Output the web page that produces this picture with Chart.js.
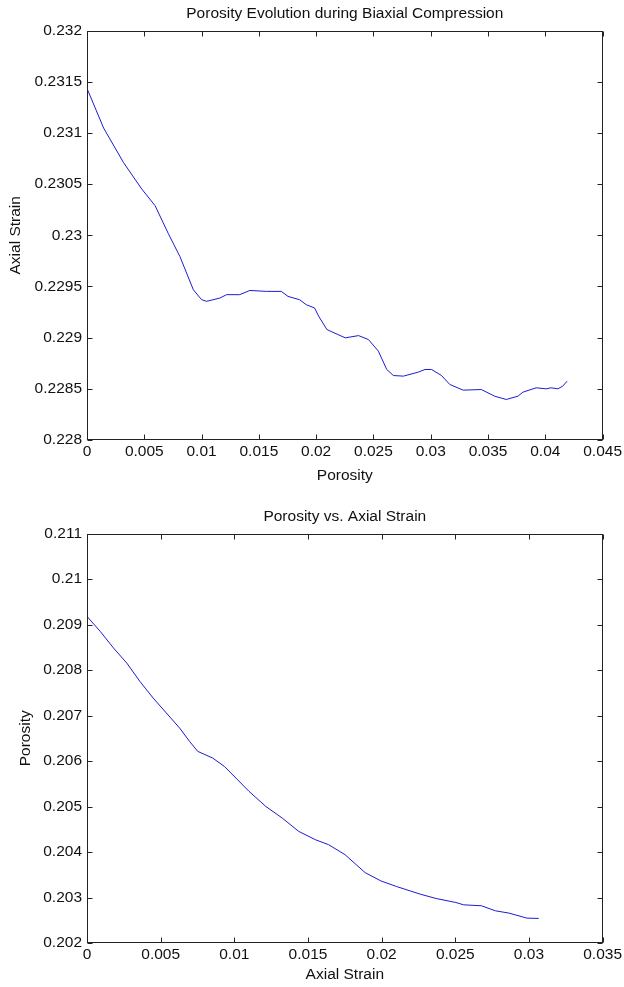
<!DOCTYPE html>
<html>
<head>
<meta charset="utf-8">
<script src="https://cdn.jsdelivr.net/npm/chart.js@4.4.0/dist/chart.umd.min.js"></script>
<style>
  html, body { margin: 0; padding: 0; background: #fff; }
  #wrap { position: relative; width: 624px; height: 987px; }
  .panel { position: absolute; left: 0; }
  #p1 { top: 0; }
  #p2 { top: 495px; }
</style>
</head>
<body>
<div id="wrap">
  <div class="panel" id="p1"><canvas id="chart1" width="624" height="490"></canvas></div>
  <div class="panel" id="p2"><canvas id="chart2" width="624" height="492"></canvas></div>
</div>
<script>
// top plot: axial strain against porosity
var topPorosity = [0, 0.00145, 0.00319, 0.00478, 0.00594, 0.0071, 0.00812, 0.00928, 0.0100, 0.01044,
  0.0116, 0.01218, 0.01333, 0.01421, 0.01565, 0.01696, 0.01754, 0.01855, 0.01913, 0.01986,
  0.02022, 0.02094, 0.02254, 0.0237, 0.02457, 0.02543, 0.02616, 0.02674, 0.02761, 0.02891,
  0.0295, 0.03007, 0.03094, 0.03167, 0.03283, 0.03442, 0.03558, 0.03659, 0.03761, 0.03804,
  0.0392, 0.04007, 0.0405, 0.04109, 0.04152, 0.0419];
var topStrain = [0.231435, 0.231048, 0.23071, 0.230452, 0.23029, 0.230016, 0.22979, 0.229468, 0.229371, 0.229355,
  0.229387, 0.22942, 0.22942, 0.229461, 0.229452, 0.229452, 0.229403, 0.229371, 0.229322, 0.22929,
  0.229209, 0.229079, 0.228998, 0.22902, 0.228981, 0.228868, 0.228689, 0.22863, 0.228624, 0.228663,
  0.228689, 0.228689, 0.22863, 0.228542, 0.228487, 0.228493, 0.228428, 0.228396, 0.228428, 0.228467,
  0.22851, 0.2285, 0.22851, 0.2285, 0.228526, 0.228575];
var topXTicks = [0, 0.005, 0.01, 0.015, 0.02, 0.025, 0.03, 0.035, 0.04, 0.045];
var topYTicks = [0.228, 0.2285, 0.229, 0.2295, 0.23, 0.2305, 0.231, 0.2315, 0.232];

// bottom plot: porosity against axial strain
var bottomStrain = [0, 0.0009, 0.0018, 0.0027, 0.00359, 0.00449, 0.00539, 0.00629, 0.00696, 0.00752,
  0.00853, 0.00932, 0.01011, 0.011, 0.01213, 0.01325, 0.01437, 0.0155, 0.0164, 0.01752,
  0.01888, 0.01995, 0.02102, 0.02263, 0.0237, 0.02504, 0.02557, 0.02678, 0.02772, 0.02865,
  0.02986, 0.03066];
var bottomPorosity = [0.209179, 0.20885, 0.208484, 0.208154, 0.207751, 0.207385, 0.207055, 0.206725, 0.206432, 0.206212,
  0.206066, 0.205883, 0.205626, 0.205333, 0.205004, 0.204747, 0.204454, 0.204271, 0.204161, 0.203941,
  0.203547, 0.203365, 0.203241, 0.203073, 0.202978, 0.20289, 0.202839, 0.202818, 0.202708, 0.202657,
  0.202547, 0.20254];
var bottomXTicks = [0, 0.005, 0.01, 0.015, 0.02, 0.025, 0.03, 0.035];
var bottomYTicks = [0.202, 0.203, 0.204, 0.205, 0.206, 0.207, 0.208, 0.209, 0.21, 0.211];

Chart.defaults.font.family = '"Liberation Sans", Arial, sans-serif';
Chart.defaults.font.size = 15.5;
Chart.defaults.color = '#111';

// box round the axes with inward ticks on all four sides
var matlabBox = {
  id: 'matlabBox',
  afterDatasetsDraw: function (chart) {
    var ctx = chart.ctx, a = chart.chartArea;
    var l = Math.round(a.left) + 0.5, r = Math.round(a.right) - 0.5;
    var t = Math.round(a.top) + 0.5, b = Math.round(a.bottom) - 0.5;
    var xs = chart.scales.x, ys = chart.scales.y;
    ctx.save();
    ctx.strokeStyle = '#222';
    ctx.lineWidth = 1;
    ctx.strokeRect(l, t, r - l, b - t);
    ctx.beginPath();
    xs.ticks.forEach(function (tk) {
      var px = Math.round(xs.getPixelForValue(tk.value)) + 0.5;
      ctx.moveTo(px, b); ctx.lineTo(px, b - 5);
      ctx.moveTo(px, t); ctx.lineTo(px, t + 5);
    });
    ys.ticks.forEach(function (tk) {
      var py = Math.round(ys.getPixelForValue(tk.value)) + 0.5;
      ctx.moveTo(l, py); ctx.lineTo(l + 5, py);
      ctx.moveTo(r, py); ctx.lineTo(r - 5, py);
    });
    ctx.stroke();
    ctx.restore();
  }
};

function fmt(v) {
  return String(parseFloat(Number(v).toFixed(5)));
}

function makeChart(id, xs, ys, xTicks, yTicks, title, xTitle, yTitle, titlePad, xHeight, xTitlePad, yTitlePad) {
  var pts = xs.map(function (x, i) { return { x: x, y: ys[i] }; });
  return new Chart(document.getElementById(id), {
    type: 'line',
    data: {
      datasets: [{
        data: pts,
        borderColor: '#1c1cd0',
        borderWidth: 1,
        pointRadius: 0,
        fill: false,
        tension: 0
      }]
    },
    options: {
      responsive: false,
      animation: false,
      layout: { padding: { left: 0, right: 17, top: 0, bottom: 0 } },
      plugins: {
        legend: { display: false },
        tooltip: { enabled: false },
        title: {
          display: true,
          text: title,
          fullSize: false,
          font: { size: 15.5, weight: 'normal' },
          padding: titlePad
        }
      },
      scales: {
        x: {
          type: 'linear',
          min: xTicks[0],
          max: xTicks[xTicks.length - 1],
          afterBuildTicks: function (s) { s.ticks = xTicks.map(function (v) { return { value: v }; }); },
          afterFit: function (s) { s.height = xHeight; },
          grid: { display: false, drawTicks: false },
          border: { display: false },
          ticks: { autoSkip: false, maxRotation: 0, padding: 2, callback: fmt },
          title: { display: true, text: xTitle, padding: { top: 0, bottom: xTitlePad } }
        },
        y: {
          type: 'linear',
          min: yTicks[0],
          max: yTicks[yTicks.length - 1],
          afterBuildTicks: function (s) { s.ticks = yTicks.map(function (v) { return { value: v }; }); },
          afterFit: function (s) { s.width = 87; },
          grid: { display: false, drawTicks: false },
          border: { display: false },
          ticks: { autoSkip: false, padding: 5, callback: fmt },
          title: { display: true, text: yTitle, padding: { top: yTitlePad, bottom: 0 } }
        }
      }
    },
    plugins: [matlabBox]
  });
}

makeChart('chart1', topPorosity, topStrain, topXTicks, topYTicks,
  'Porosity Evolution during Biaxial Compression', 'Porosity', 'Axial Strain',
  { top: 4, bottom: 8 }, 50, 5, 6.5);

makeChart('chart2', bottomStrain, bottomPorosity, bottomXTicks, bottomYTicks,
  'Porosity vs. Axial Strain', 'Axial Strain', 'Porosity',
  { top: 12, bottom: 8 }, 44, 3, 16.5);
</script>
</body>
</html>
